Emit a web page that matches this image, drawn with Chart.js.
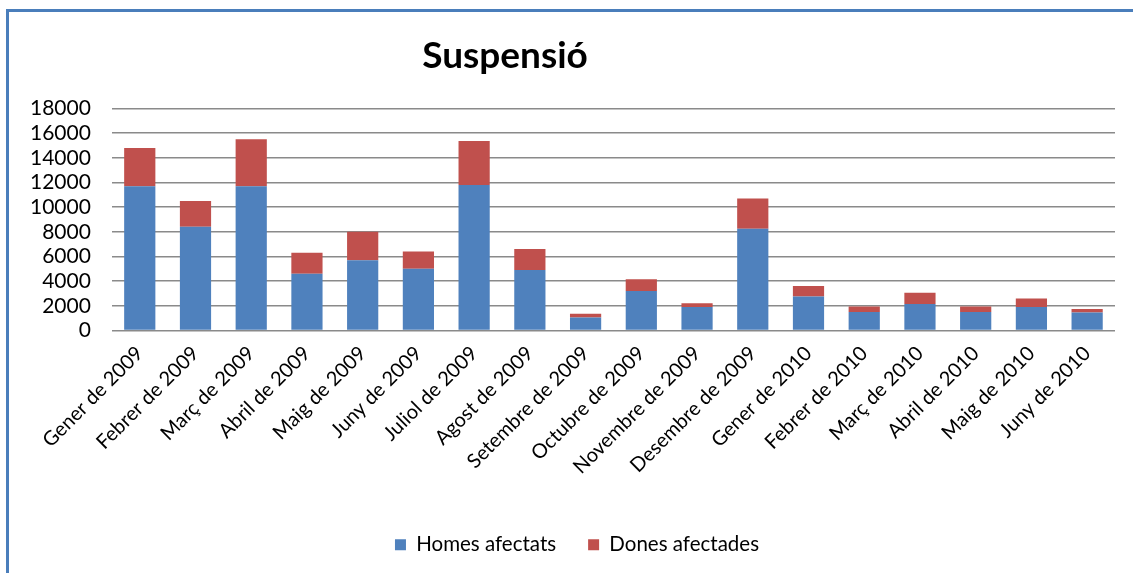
<!DOCTYPE html>
<html>
<head>
<meta charset="utf-8">
<script src="https://cdn.jsdelivr.net/npm/chart.js@4"></script>
<style>
  html, body { margin: 0; padding: 0; background: #fff; }
  body { width: 1133px; height: 573px; position: relative; overflow: hidden; }
  #frame {
    position: absolute; left: 6px; top: 9px; right: 0; bottom: 0;
    border-top: 3px solid #4a7ebb; border-left: 3px solid #4a7ebb;
  }
</style>
</head>
<body>
<div id="frame"><canvas id="myChart"></canvas></div>
<script>
const months = [
  "Gener de 2009", "Febrer de 2009", "Març de 2009", "Abril de 2009",
  "Maig de 2009", "Juny de 2009", "Juliol de 2009", "Agost de 2009",
  "Setembre de 2009", "Octubre de 2009", "Novembre de 2009", "Desembre de 2009",
  "Gener de 2010", "Febrer de 2010", "Març de 2010", "Abril de 2010",
  "Maig de 2010", "Juny de 2010"
];
const homes = [11700, 8400, 11700, 4600, 5700, 5000, 11800, 4900, 1050,
  3200, 1900, 8250, 2750, 1500, 2150, 1500, 1900, 1450];
const dones = [3100, 2100, 3800, 1700, 2300, 1400, 3550, 1700, 300,
  950, 300, 2450, 850, 450, 900, 450, 700, 300];
const yTicks = [0, 2000, 4000, 6000, 8000, 10000, 12000, 14000, 16000, 18000];

const font = "Lato";

// title and legend are not centred on the canvas in the original, nudge them
const boxShift = {
  id: "boxShift",
  afterLayout(chart) {
    chart.titleBlock.left = 0;
    chart.titleBlock.right = 992;
    chart.legend.left += 15;
    chart.legend.right += 15;
  }
};

const ctx = document.getElementById("myChart").getContext("2d");

const myChart = new Chart(ctx, {
  type: "bar",
  data: {
    labels: months,
    datasets: [
      {
        label: "Homes afectats",
        data: homes,
        backgroundColor: "#4f81bd",
      },
      {
        label: "Dones afectades",
        data: dones,
        backgroundColor: "#c0504d",
      },
    ],
  },
  options: {
    responsive: true,
    maintainAspectRatio: false,
    animation: false,
    barPercentage: 0.56,
    categoryPercentage: 1,
    layout: { padding: { left: 0, right: 18, top: 0, bottom: 8 } },
    plugins: {
      title: {
        display: true,
        text: "Suspensió",
        color: "#000",
        font: { family: font, size: 37, weight: "bold" },
        padding: { top: 22, bottom: 30 },
      },
      legend: {
        position: "bottom",
        labels: {
          color: "#000",
          font: { family: font, size: 20.5 },
          boxWidth: 11,
          boxHeight: 11,
          padding: 32,
        },
      },
      tooltip: { enabled: false },
    },
    scales: {
      x: {
        stacked: true,
        grid: { display: false },
        border: { display: false },
        afterFit: (s) => { s.height = 172; },
        ticks: {
          color: "#000",
          font: { family: font, size: 20 },
          minRotation: 45,
          maxRotation: 45,
          autoSkip: false,
          padding: 3,
        },
      },
      y: {
        stacked: true,
        min: 0,
        max: 18000,
        afterBuildTicks: (axis) => {
          axis.ticks = yTicks.map((v) => ({ value: v }));
        },
        grid: { color: "#8a8a8a", lineWidth: 1.6, drawTicks: false },
        border: { display: false },
        ticks: {
          color: "#000",
          font: { family: font, size: 21 },
          padding: 21,
          autoSkip: false,
          callback: (v) => String(v),
        },
      },
    },
  },
  plugins: [boxShift],
});
</script>
</body>
</html>
